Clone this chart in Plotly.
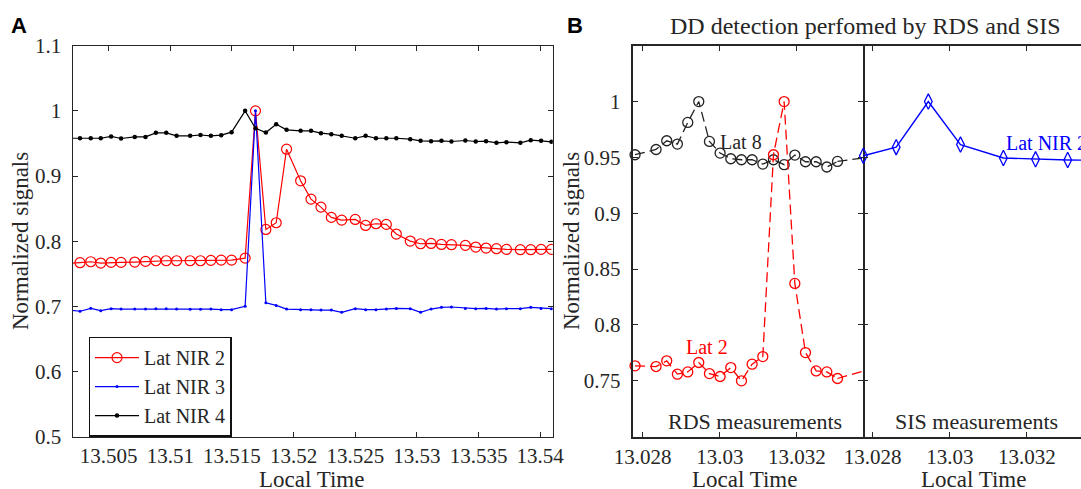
import plotly.graph_objects as go

W, H = 1081, 489

# ---------------- Panel A data ----------------
time_a = [13.50184, 13.50268, 13.50355, 13.50436, 13.50520, 13.50601, 13.50712, 13.50799,
          13.50883, 13.50967, 13.51051, 13.51161, 13.51245, 13.51329, 13.51413, 13.51497,
          13.51607, 13.51691, 13.51775, 13.51859, 13.51943, 13.52057, 13.52141, 13.52222,
          13.52306, 13.52390, 13.52500, 13.52584, 13.52668, 13.52752, 13.52833, 13.52946,
          13.53030, 13.53115, 13.53199, 13.53280, 13.53393, 13.53477, 13.53561, 13.53645,
          13.53726, 13.53839, 13.53923, 13.54007, 13.54091]
lat_nir2 = [0.766, 0.767, 0.7685, 0.7665, 0.7675, 0.7675, 0.768, 0.769, 0.770, 0.770, 0.770,
            0.770, 0.770, 0.7706, 0.771, 0.771, 0.774, 1.0, 0.818, 0.8283, 0.9412, 0.8927,
            0.8646, 0.8523, 0.8365, 0.8324, 0.8334, 0.8242, 0.8268, 0.8258, 0.811, 0.8002,
            0.7961, 0.7966, 0.795, 0.7946, 0.7936, 0.791, 0.7895, 0.7885, 0.7874, 0.787,
            0.787, 0.7874, 0.7874]
lat_nir3 = [0.6943, 0.6925, 0.697, 0.6934, 0.6964, 0.6959, 0.6959, 0.6959, 0.6964, 0.6964,
            0.6959, 0.6954, 0.6954, 0.6959, 0.6949, 0.6949, 0.700, 1.0, 0.7056, 0.7015,
            0.6959, 0.6949, 0.6949, 0.6943, 0.6943, 0.6908, 0.6964, 0.6949, 0.6949, 0.6959,
            0.6969, 0.6964, 0.6908, 0.6959, 0.6985, 0.699, 0.6969, 0.6964, 0.6969, 0.6959,
            0.6964, 0.6964, 0.6985, 0.6969, 0.6964]
lat_nir4 = [0.958, 0.958, 0.958, 0.958, 0.9607, 0.9576, 0.960, 0.960, 0.9663, 0.9663, 0.9617,
            0.9617, 0.963, 0.9617, 0.9627, 0.9673, 1.0, 0.9734, 0.9668, 0.9796, 0.9709,
            0.9693, 0.9693, 0.9658, 0.9642, 0.9617, 0.958, 0.9617, 0.958, 0.958, 0.958,
            0.9566, 0.954, 0.9535, 0.954, 0.953, 0.9545, 0.953, 0.9535, 0.951, 0.952, 0.951,
            0.955, 0.954, 0.9525]
a_xticks = [13.505, 13.51, 13.515, 13.52, 13.525, 13.53, 13.535, 13.54]
a_xlabels = ["13.505", "13.51", "13.515", "13.52", "13.525", "13.53", "13.535", "13.54"]
a_yticks = [0.5, 0.6, 0.7, 0.8, 0.9, 1.0, 1.1]
a_ylabels = ["0.5", "0.6", "0.7", "0.8", "0.9", "1", "1.1"]

# ---------------- Panel B data ----------------
time_rds = [13.027801, 13.028346, 13.028623, 13.028900, 13.029169, 13.029455, 13.029732,
            13.030009, 13.030286, 13.030563, 13.030840, 13.031117, 13.031394, 13.031671,
            13.031948, 13.032225, 13.032502, 13.032779, 13.033056, 13.033912]
lat8 = [0.9524, 0.9571, 0.9649, 0.9619, 0.9813, 1.0, 0.9643, 0.9539, 0.9488, 0.9479, 0.9479,
        0.9440, 0.9479, 0.9435, 0.9521, 0.9461, 0.9461, 0.9414, 0.9464, 0.9503]
lat2 = [0.7634, 0.7628, 0.7679, 0.7560, 0.7580, 0.7664, 0.7565, 0.7539, 0.7619, 0.7500, 0.7649,
        0.7717, 0.9524, 1.0, 0.8372, 0.7753, 0.7589, 0.7580, 0.7521, 0.7607]
time_sis = [13.027757, 13.028609, 13.029443, 13.030278, 13.031391, 13.032226, 13.033061,
            13.033896]
sis_nir2 = [0.9515, 0.9592, 1.0, 0.9615, 0.9495, 0.9483, 0.9477, 0.9475]
b_xticks = [13.028, 13.03, 13.032]
b_xlabels = ["13.028", "13.03", "13.032"]
b_yticks = [0.75, 0.8, 0.85, 0.9, 0.95, 1.0]
b_ylabels = ["0.75", "0.8", "0.85", "0.9", "0.95", "1"]

SERIF = "Liberation Serif"
AX = "#262626"
RED, BLUE, BLACK = "#FF0000", "#0000FF", "#000000"

fig = go.Figure()

# Panel A traces (first point lies just left of the axis: line only)
for ys, col in [(lat_nir2, RED), (lat_nir3, BLUE), (lat_nir4, BLACK)]:
    fig.add_trace(go.Scatter(x=time_a[:2], y=ys[:2], mode="lines", showlegend=False,
                             line=dict(color=col, width=1.2), xaxis="x", yaxis="y",
                             hoverinfo="skip"))
fig.add_trace(go.Scatter(x=time_a[1:], y=lat_nir2[1:], mode="lines+markers", name="Lat NIR 2",
                         line=dict(color=RED, width=1.2),
                         marker=dict(symbol="circle-open", size=10, color=RED,
                                     line=dict(width=1.2, color=RED)),
                         xaxis="x", yaxis="y"))
fig.add_trace(go.Scatter(x=time_a[1:], y=lat_nir3[1:], mode="lines+markers", name="Lat NIR 3",
                         line=dict(color=BLUE, width=1.2),
                         marker=dict(symbol="circle", size=3, color=BLUE),
                         xaxis="x", yaxis="y"))
fig.add_trace(go.Scatter(x=time_a[1:], y=lat_nir4[1:], mode="lines+markers", name="Lat NIR 4",
                         line=dict(color=BLACK, width=1.2),
                         marker=dict(symbol="circle", size=4.5, color=BLACK),
                         xaxis="x", yaxis="y"))

# Panel B left (RDS)
DASH = "10px,5px"
for ys, col in [(lat8, "#222222"), (lat2, RED)]:
    fig.add_trace(go.Scatter(x=time_rds[:-1], y=ys[:-1], mode="lines+markers", showlegend=False,
                             line=dict(color=col, width=1.3, dash=DASH),
                             marker=dict(symbol="circle-open", size=10, color=col,
                                         line=dict(width=1.3, color=col)),
                             cliponaxis=False, xaxis="x2", yaxis="y2"))
    fig.add_trace(go.Scatter(x=time_rds[-2:], y=ys[-2:], mode="lines", showlegend=False,
                             line=dict(color=col, width=1.3, dash=DASH),
                             xaxis="x2", yaxis="y2", hoverinfo="skip"))

# Panel B right (SIS)
fig.add_trace(go.Scatter(x=time_sis[:-1], y=sis_nir2[:-1], mode="lines+markers", showlegend=False,
                         line=dict(color=BLUE, width=1.4),
                         marker=dict(symbol="diamond-tall-open", size=11, color=BLUE,
                                     line=dict(width=1.3, color=BLUE)),
                         cliponaxis=False, xaxis="x3", yaxis="y3"))
fig.add_trace(go.Scatter(x=time_sis[-2:], y=sis_nir2[-2:], mode="lines", showlegend=False,
                         line=dict(color=BLUE, width=1.4), xaxis="x3", yaxis="y3",
                         hoverinfo="skip"))

ydom = [1 - 436.7 / H, 1 - 45.7 / H]
tickfont = dict(family=SERIF, size=21, color=AX)
common = dict(showgrid=False, zeroline=False, linecolor=AX, ticks="inside",
              tickcolor=AX, tickfont=tickfont, automargin=False)

fig.update_layout(
    width=W, height=H, autosize=False,
    margin=dict(l=0, r=0, t=0, b=0, pad=0),
    plot_bgcolor="white", paper_bgcolor="white",
    font=dict(family=SERIF, color=AX),
    xaxis=dict(domain=[72.5 / W, 552.8 / W], range=[13.50207, 13.54102], anchor="y",
               tickvals=a_xticks, ticktext=a_xlabels, mirror="ticks", linewidth=1.3,
               showline=True, ticklen=5, ticklabelstandoff=0, **common),
    yaxis=dict(domain=ydom, range=[0.5, 1.1], anchor="x",
               tickvals=a_yticks, ticktext=a_ylabels, mirror="ticks", linewidth=1.3,
               showline=True, ticklen=5, ticklabelstandoff=6, **common),
    xaxis2=dict(domain=[632.7 / W, 862.7 / W], range=[13.02774, 13.03371], anchor="y2",
                tickvals=b_xticks, ticktext=b_xlabels, mirror="ticks", linewidth=1.8,
                showline=True, ticklen=5, ticklabelstandoff=0, **common),
    yaxis2=dict(domain=ydom, range=[0.70, 1.05], anchor="x2",
                tickvals=b_yticks, ticktext=b_ylabels, mirror="ticks", linewidth=1.8,
                showline=True, ticklen=5, ticklabelstandoff=6, **common),
    xaxis3=dict(domain=[862.7 / W, 1.0], range=[13.02774, 13.033406], anchor="y3",
                tickvals=b_xticks, ticktext=b_xlabels, mirror="ticks", linewidth=1.8,
                showline=True, ticklen=5, ticklabelstandoff=0, **common),
    yaxis3=dict(domain=ydom, range=[0.70, 1.05], anchor="x3",
                tickvals=b_yticks, showticklabels=False, showline=False,
                ticklen=5, **common),
    legend=dict(x=88.6 / W, y=1 - 336.7 / H, xanchor="left", yanchor="top",
                bgcolor="white", bordercolor="#111111", borderwidth=1.4,
                font=dict(family=SERIF, size=20, color=AX), tracegroupgap=0,
                itemwidth=44),
)

ann = []
def paper_text(text, px, py, size, color=AX, angle=0, family=SERIF, xanchor="center"):
    ann.append(dict(text=text, x=px / W, y=1 - py / H, xref="paper", yref="paper",
                    showarrow=False, textangle=angle, xanchor=xanchor, yanchor="middle",
                    font=dict(family=family, size=size, color=color)))

paper_text("<b>A</b>", 19, 25.5, 22, color="#000000", family="Liberation Sans")
paper_text("<b>B</b>", 575.5, 25.5, 22, color="#000000", family="Liberation Sans")
paper_text("DD detection perfomed by RDS and SIS", 865.6, 26, 24)
paper_text("Local Time", 311, 479, 23)
paper_text("Local Time", 744, 479, 23)
paper_text("Local Time", 973.7, 479, 23)
paper_text("Normalized signals", 20.5, 241.5, 23, angle=-90)
paper_text("Normalized signals", 571.5, 241.5, 23, angle=-90)
paper_text("RDS measurements", 754.5, 421.7, 22)
paper_text("SIS measurements", 976.7, 421.7, 22)

ann.append(dict(text="Lat 8", x=13.02996, y=0.964, xref="x2", yref="y2", showarrow=False,
                xanchor="left", yanchor="middle", font=dict(family=SERIF, size=20, color=AX)))
ann.append(dict(text="Lat 2", x=13.02966, y=0.780, xref="x2", yref="y2", showarrow=False,
                xanchor="center", yanchor="middle", font=dict(family=SERIF, size=20, color=RED)))
ann.append(dict(text="Lat NIR 2", x=13.03140, y=0.963, xref="x3", yref="y3", showarrow=False,
                xanchor="left", yanchor="middle", font=dict(family=SERIF, size=20, color=BLUE)))
fig.update_layout(annotations=ann)

fig.write_html("out.html", config={"displayModeBar": False},
               post_script="document.body.style.margin='0';document.body.style.padding='0';"
                           "document.body.style.overflow='hidden';")
